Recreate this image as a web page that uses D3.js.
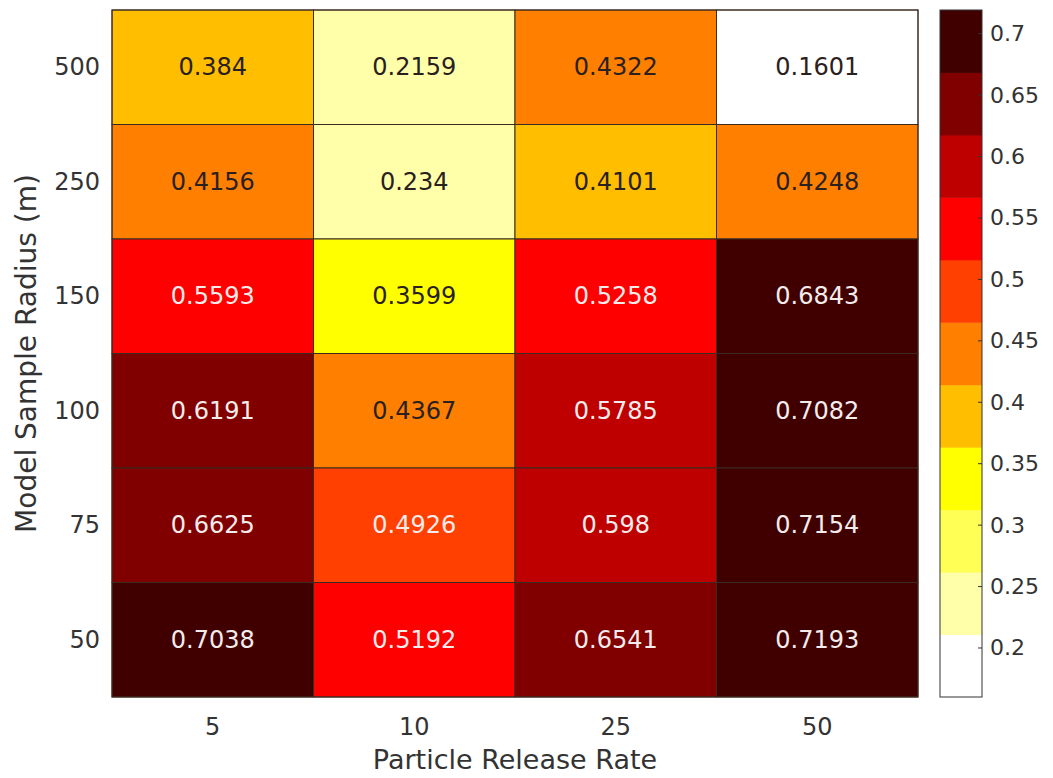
<!DOCTYPE html>
<html>
<head>
<meta charset="utf-8">
<script src="https://cdn.jsdelivr.net/npm/d3@7"></script>
<style>
  body { margin: 0; background: #fff; }
  text { font-family: "DejaVu Sans", sans-serif; }
</style>
</head>
<body>
<svg id="chart" width="1053" height="778"></svg>
<script>
// columns (x) and rows (y, top to bottom)
const releaseRates = ['5', '10', '25', '50']
const radii = ['500', '250', '150', '100', '75', '50']
// one array per row, same order as radii
const values = [
  [0.384, 0.2159, 0.4322, 0.1601],
  [0.4156, 0.234, 0.4101, 0.4248],
  [0.5593, 0.3599, 0.5258, 0.6843],
  [0.6191, 0.4367, 0.5785, 0.7082],
  [0.6625, 0.4926, 0.598, 0.7154],
  [0.7038, 0.5192, 0.6541, 0.7193]
]
const colorTicks = [0.2, 0.25, 0.3, 0.35, 0.4, 0.45, 0.5, 0.55, 0.6, 0.65, 0.7]
// reversed "hot" colormap with 11 levels, white for low values
const hotColors = ['#ffffff', '#ffffaa', '#ffff55', '#ffff00', '#ffbf00', '#ff8000',
  '#ff4000', '#ff0000', '#bf0000', '#800000', '#400000']

const svg = d3.select('#chart')
const plot = { left: 112, top: 10, right: 918, bottom: 697 }
const bar = { left: 940, right: 982 }

const flat = values.flatMap((row, i) => row.map((v, j) => ({ row: radii[i], col: releaseRates[j], value: v })))
const vMin = d3.min(flat, (d) => d.value)
const vMax = d3.max(flat, (d) => d.value)

const x = d3.scaleBand().domain(releaseRates).range([plot.left, plot.right])
const y = d3.scaleBand().domain(radii).range([plot.top, plot.bottom])
const color = d3.scaleQuantize().domain([vMin, vMax]).range(hotColors)

// cells
svg.append('g')
  .selectAll('rect')
  .data(flat)
  .join('rect')
  .attr('x', (d) => x(d.col))
  .attr('y', (d) => y(d.row))
  .attr('width', x.bandwidth())
  .attr('height', y.bandwidth())
  .attr('fill', (d) => color(d.value))
  .attr('stroke', '#3a2a20')
  .attr('stroke-width', 1)

svg.append('g')
  .selectAll('text')
  .data(flat)
  .join('text')
  .attr('x', (d) => x(d.col) + x.bandwidth() / 2)
  .attr('y', (d) => y(d.row) + y.bandwidth() / 2)
  .attr('text-anchor', 'middle')
  .attr('dominant-baseline', 'central')
  .attr('font-size', 24)
  .attr('fill', (d) => d.value > 0.46 ? '#f4ecec' : '#2a2020')
  .text((d) => d.value)

svg.append('rect')
  .attr('x', plot.left).attr('y', plot.top)
  .attr('width', plot.right - plot.left).attr('height', plot.bottom - plot.top)
  .attr('fill', 'none').attr('stroke', '#3a2a20')

// axes tick labels
svg.append('g')
  .selectAll('text')
  .data(releaseRates)
  .join('text')
  .attr('x', (d) => x(d) + x.bandwidth() / 2)
  .attr('y', 735)
  .attr('text-anchor', 'middle')
  .attr('font-size', 24)
  .attr('fill', '#333')
  .text((d) => d)

svg.append('g')
  .selectAll('text')
  .data(radii)
  .join('text')
  .attr('x', 100)
  .attr('y', (d) => y(d) + y.bandwidth() / 2)
  .attr('text-anchor', 'end')
  .attr('dominant-baseline', 'central')
  .attr('font-size', 24)
  .attr('fill', '#333')
  .text((d) => d)

svg.append('text')
  .attr('x', (plot.left + plot.right) / 2)
  .attr('y', 769)
  .attr('text-anchor', 'middle')
  .attr('font-size', 27)
  .attr('fill', '#333')
  .text('Particle Release Rate')

svg.append('text')
  .attr('transform', 'translate(36,' + (plot.top + plot.bottom) / 2 + ') rotate(-90)')
  .attr('text-anchor', 'middle')
  .attr('font-size', 28)
  .attr('fill', '#333')
  .text('Model Sample Radius (m)')

// colorbar
const cy = d3.scaleLinear().domain([vMin, vMax]).range([plot.bottom, plot.top])
const step = (vMax - vMin) / hotColors.length
svg.append('g')
  .selectAll('rect')
  .data(hotColors)
  .join('rect')
  .attr('x', bar.left)
  .attr('y', (c, i) => cy(vMin + (i + 1) * step))
  .attr('width', bar.right - bar.left)
  .attr('height', (c, i) => cy(vMin + i * step) - cy(vMin + (i + 1) * step) + 0.5)
  .attr('fill', (c) => c)

svg.append('rect')
  .attr('x', bar.left).attr('y', plot.top)
  .attr('width', bar.right - bar.left).attr('height', plot.bottom - plot.top)
  .attr('fill', 'none').attr('stroke', '#333')

const cbAxis = svg.append('g')
cbAxis.selectAll('line')
  .data(colorTicks)
  .join('line')
  .attr('x1', bar.right - 4).attr('x2', bar.right)
  .attr('y1', (d) => cy(d)).attr('y2', (d) => cy(d))
  .attr('stroke', '#333')
cbAxis.selectAll('text')
  .data(colorTicks)
  .join('text')
  .attr('x', 990)
  .attr('y', (d) => cy(d))
  .attr('dominant-baseline', 'central')
  .attr('font-size', 22)
  .attr('fill', '#333')
  .text((d) => d)
</script>
</body>
</html>
